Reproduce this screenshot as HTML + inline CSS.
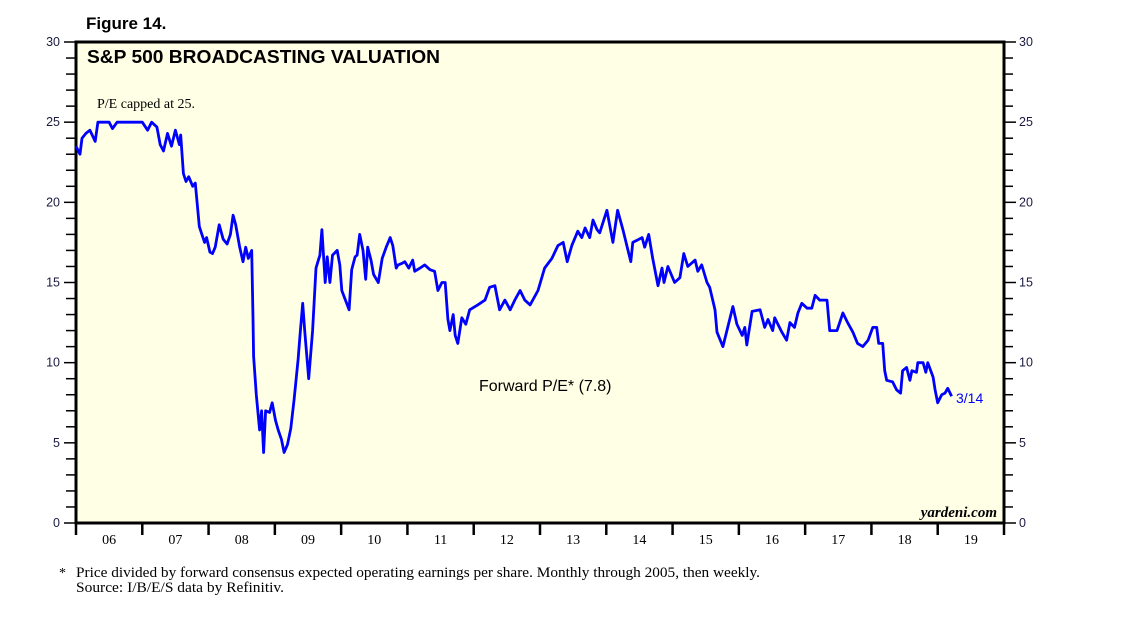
<!DOCTYPE html>
<html><head><meta charset="utf-8"><style>
html,body{margin:0;padding:0;background:#fff;}
svg{display:block;}
</style></head><body>
<svg id="chart" width="1138" height="621" xmlns="http://www.w3.org/2000/svg">
<text x="86" y="29" font-family="Liberation Sans, sans-serif" font-weight="bold" font-size="17">Figure 14.</text>
<rect x="76" y="42" width="928" height="481" fill="#FFFFE6" stroke="#000" stroke-width="3"/>
<text x="87" y="63" font-family="Liberation Sans, sans-serif" font-weight="bold" font-size="18.5" textLength="353" lengthAdjust="spacingAndGlyphs">S&amp;P 500 BROADCASTING VALUATION</text>
<text x="97" y="108" font-family="Liberation Serif, serif" font-size="14">P/E capped at 25.</text>
<text x="479" y="391" font-family="Liberation Sans, sans-serif" font-size="16">Forward P/E* (7.8)</text>
<text x="956" y="403" font-family="Liberation Sans, sans-serif" font-size="14" fill="#0000FF">3/14</text>
<text x="997" y="517" text-anchor="end" font-family="Liberation Serif, serif" font-style="italic" font-weight="bold" font-size="15">yardeni.com</text>
<g id="axes"></g>
<g id="series"></g>
<text x="59" y="577" font-family="Liberation Serif, serif" font-size="14">*</text>
<text x="76" y="577" font-family="Liberation Serif, serif" font-size="14.5" textLength="684" lengthAdjust="spacingAndGlyphs">Price divided by forward consensus expected operating earnings per share. Monthly through 2005, then weekly.</text>
<text x="76" y="592" font-family="Liberation Serif, serif" font-size="14.5" textLength="208" lengthAdjust="spacingAndGlyphs">Source: I/B/E/S data by Refinitiv.</text>
</svg>
<script>
const yearLabels=["06","07","08","09","10","11","12","13","14","15","16","17","18","19"];
const yTicks=[0,5,10,15,20,25,30];
const dates=[2006.00,2006.06,2006.09,2006.15,2006.21,2006.29,2006.33,2006.50,2006.55,2006.62,2007.00,2007.08,2007.14,2007.22,2007.27,2007.32,2007.38,2007.44,2007.50,2007.56,2007.58,2007.62,2007.66,2007.70,2007.76,2007.80,2007.86,2007.90,2007.94,2007.97,2008.02,2008.06,2008.10,2008.16,2008.22,2008.28,2008.33,2008.37,2008.41,2008.47,2008.52,2008.56,2008.60,2008.65,2008.67,2008.68,2008.72,2008.77,2008.80,2008.83,2008.86,2008.92,2008.96,2009.01,2009.05,2009.10,2009.14,2009.19,2009.24,2009.29,2009.35,2009.38,2009.42,2009.45,2009.51,2009.57,2009.62,2009.65,2009.68,2009.71,2009.76,2009.79,2009.83,2009.87,2009.94,2009.98,2010.01,2010.12,2010.16,2010.21,2010.24,2010.28,2010.33,2010.37,2010.40,2010.45,2010.49,2010.56,2010.62,2010.68,2010.74,2010.78,2010.83,2010.86,2010.92,2010.96,2011.02,2011.08,2011.11,2011.19,2011.26,2011.34,2011.41,2011.46,2011.52,2011.57,2011.61,2011.64,2011.69,2011.72,2011.76,2011.82,2011.88,2011.94,2012.06,2012.17,2012.24,2012.32,2012.39,2012.47,2012.55,2012.62,2012.70,2012.77,2012.85,2012.97,2013.07,2013.18,2013.27,2013.35,2013.41,2013.48,2013.57,2013.63,2013.68,2013.75,2013.80,2013.86,2013.90,2014.01,2014.10,2014.17,2014.25,2014.37,2014.40,2014.54,2014.58,2014.64,2014.70,2014.78,2014.84,2014.87,2014.93,2015.03,2015.11,2015.17,2015.23,2015.34,2015.38,2015.44,2015.52,2015.56,2015.64,2015.67,2015.76,2015.82,2015.91,2015.97,2016.05,2016.09,2016.12,2016.20,2016.32,2016.39,2016.44,2016.51,2016.54,2016.65,2016.72,2016.77,2016.84,2016.89,2016.95,2017.03,2017.10,2017.15,2017.22,2017.33,2017.37,2017.48,2017.57,2017.64,2017.72,2017.79,2017.87,2017.95,2018.02,2018.08,2018.11,2018.17,2018.20,2018.23,2018.32,2018.38,2018.44,2018.47,2018.53,2018.58,2018.61,2018.68,2018.70,2018.78,2018.82,2018.85,2018.93,2018.96,2019.00,2019.06,2019.11,2019.15,2019.21];
const values=[23.5,23.0,24.0,24.3,24.5,23.8,25.0,25.0,24.6,25.0,25.0,24.5,25.0,24.7,23.6,23.2,24.3,23.5,24.5,23.6,24.2,21.8,21.3,21.6,21.0,21.2,18.5,18.0,17.5,17.8,16.9,16.8,17.2,18.6,17.7,17.4,18.0,19.2,18.6,17.2,16.3,17.2,16.5,17.0,12.8,10.4,8.0,5.8,7.0,4.4,7.0,6.9,7.5,6.4,5.8,5.2,4.4,4.9,5.9,7.7,10.2,11.7,13.7,12.0,9.0,12.0,15.9,16.3,16.7,18.3,15.0,16.6,15.0,16.7,17.0,16.1,14.5,13.3,15.8,16.6,16.7,18.0,17.0,15.2,17.2,16.4,15.5,15.0,16.5,17.2,17.8,17.3,15.9,16.1,16.2,16.3,15.9,16.4,15.7,15.9,16.1,15.8,15.7,14.5,15.0,15.0,12.7,12.0,13.0,11.7,11.2,12.8,12.4,13.3,13.6,13.9,14.7,14.8,13.3,13.9,13.3,13.9,14.5,13.9,13.6,14.5,15.9,16.5,17.3,17.5,16.3,17.3,18.2,17.8,18.4,17.8,18.9,18.3,18.1,19.5,17.5,19.5,18.3,16.3,17.5,17.8,17.2,18.0,16.5,14.8,15.9,15.0,16.0,15.0,15.3,16.8,16.0,16.4,15.7,16.1,15.0,14.7,13.3,11.9,11.0,12.0,13.5,12.4,11.7,12.2,11.1,13.2,13.3,12.2,12.7,12.0,12.8,11.9,11.4,12.5,12.2,13.1,13.7,13.4,13.4,14.2,13.9,13.9,12.0,12.0,13.1,12.5,11.9,11.2,11.0,11.4,12.2,12.2,11.2,11.2,9.5,8.9,8.8,8.3,8.1,9.5,9.7,8.9,9.5,9.4,10.0,10.0,9.4,10.0,9.1,8.3,7.5,8.0,8.1,8.4,7.9];

const NS="http://www.w3.org/2000/svg";
const X0=76,X1=1004,Y0=523,Y1=42,T0=2006,T1=2020,V0=0,V1=30;
function xs(t){return X0+(t-T0)/(T1-T0)*(X1-X0);}
function ys(v){return Y0-(v-V0)/(V1-V0)*(Y0-Y1);}
function mk(tag,attrs,parent){const e=document.createElementNS(NS,tag);for(const k in attrs)e.setAttribute(k,attrs[k]);parent.appendChild(e);return e;}
const ax=document.getElementById('axes');
for(let v=V0;v<=V1;v++){
  const major=v%5===0,y=ys(v);
  const l=mk('line',{x1:major?64:66,x2:X0,y1:y,y2:y,stroke:'#000','stroke-width':1.5},ax);
  
  
  const r=mk('line',{x1:X1,x2:major?1016:1013,y1:y,y2:y,stroke:'#000','stroke-width':1.5},ax);
  
  
}
yTicks.forEach(v=>{
  const y=ys(v);
  const a=mk('text',{x:60,y:y+4,'text-anchor':'end','font-family':'Liberation Sans, sans-serif','font-size':12.5,fill:'#1a1a40'},ax);
  a.textContent=v;
  
  
  const b=mk('text',{x:1019,y:y+4,'font-family':'Liberation Sans, sans-serif','font-size':12.5,fill:'#1a1a40'},ax);
  b.textContent=v;
  
  
});
for(let i=0;i<=yearLabels.length;i++){
  const x=xs(T0+i);
  const t=mk('line',{x1:x,x2:x,y1:Y0,y2:Y0+12,stroke:'#000','stroke-width':2.5},ax);
  
  
}
yearLabels.forEach((lab,i)=>{
  const t=mk('text',{x:xs(T0+i+0.5),y:544,'text-anchor':'middle','font-family':'Liberation Serif, serif','font-size':14},ax);
  t.textContent=lab;
  
  
});
const d=dates.map((t,i)=>(i?'L':'M')+xs(t).toFixed(1)+' '+ys(values[i]).toFixed(1)).join(' ');
const p=mk('path',{d:d,fill:'none',stroke:'#0000FF','stroke-width':2.8,'stroke-linejoin':'round'},document.getElementById('series'));


</script>
</body></html>
